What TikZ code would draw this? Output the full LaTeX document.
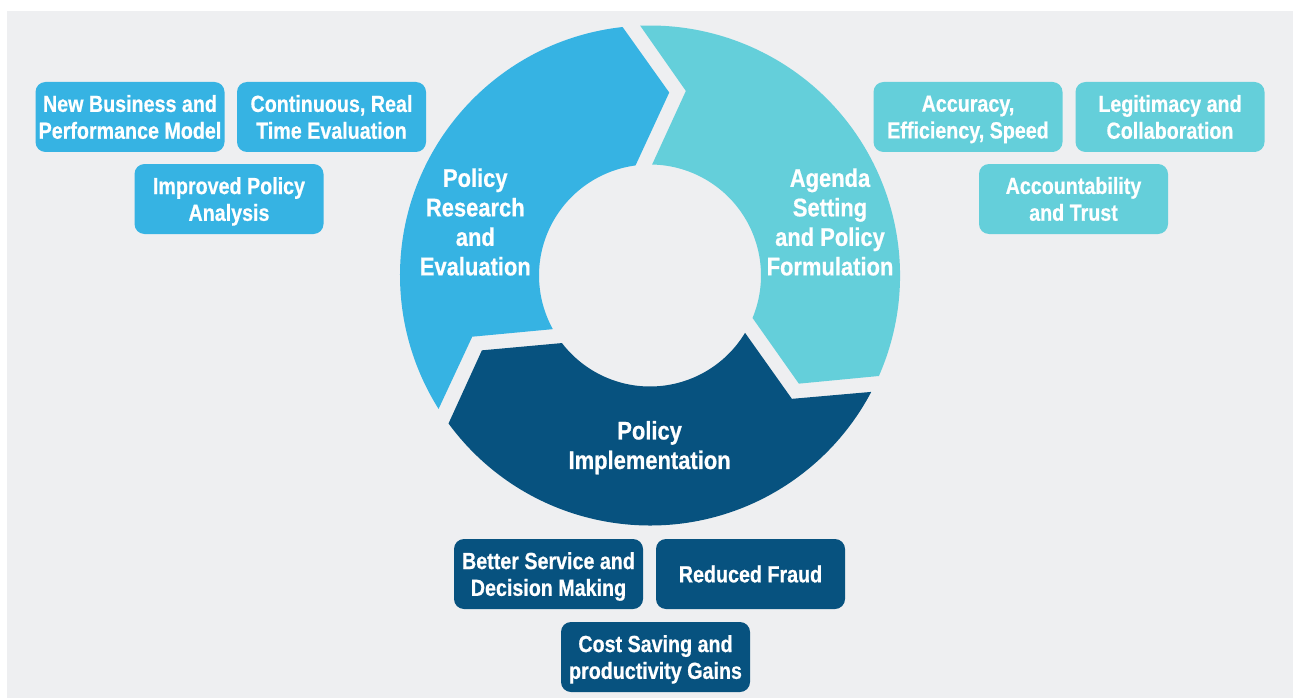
\documentclass[tikz,border=0pt]{standalone}
\usepackage{fontspec}
\setmainfont{Liberation Sans}
\newfontfamily\ringfam{Liberation Sans}[FakeStretch=0.86,FakeBold=0.6]
\newfontfamily\boxfam{Liberation Sans}[FakeStretch=0.845,FakeBold=0.6]
\definecolor{bgc}{HTML}{EEEFF1}
\definecolor{lblue}{HTML}{36B3E3}
\definecolor{tealc}{HTML}{64CFDA}
\definecolor{navyc}{HTML}{07527F}
% ring segment: #1 = tip angle of previous cut (notch side), #2 = tip angle of own cut, #3 = colour
\newcommand\ringseg[3]{%
  \fill[#3] ({#1+8.25}:250) -- ({#1-5}:188) -- ({#1+4.9}:111)
    arc[start angle={#1+4.9}, end angle={#2+13.5}, radius=111]
    -- ({#2}:184) -- ({#2+12.3}:250)
    arc[start angle={#2+12.3}, end angle={#1+8.25}, radius=250] -- cycle;}
\begin{document}
\begin{tikzpicture}[x=1pt,y=-1pt,
  box/.style={rounded corners=10pt, minimum width=189pt, minimum height=70pt,
    inner sep=0pt, text=white, align=center,
    font=\boxfam\bfseries\fontsize{23.3}{26.8}\selectfont},
  ringlabel/.style={inner sep=0pt, text=white, align=center,
    font=\ringfam\bfseries\fontsize{25.5}{29.5}\selectfont}]
\useasboundingbox (0,0) rectangle (1293,698);
\fill[bgc] (7,11) rectangle (1293,698);
\begin{scope}[shift={(650,275.5)}, yscale=-1]
  \ringseg{204}{84}{lblue}
  \ringseg{84}{-36}{tealc}
  \ringseg{-36}{-156}{navyc}
\end{scope}
% ring labels
\node[ringlabel] (research) at (475.3,222) {Policy\\Research\\and\\Evaluation};
\node[ringlabel] (agenda) at (830,222) {Agenda\\Setting\\and Policy\\Formulation};
\node[ringlabel] (implement) at (649.6,445) {Policy\\\smash{Implementation}};
% left boxes
\node[box, fill=lblue] (newbiz) at (130,117) {New Business and\\Performance Model};
\node[box, fill=lblue] (continuous) at (331.5,117) {Continuous, Real\\Time Evaluation};
\node[box, fill=lblue] (improved) at (229,199) {Improved Policy\\\smash{Analysis}};
% right boxes
\node[box, fill=tealc] (accuracy) at (968,117) {Accuracy,\\\smash{Efficiency, Speed}};
\node[box, fill=tealc] (legitimacy) at (1170,117) {Legitimacy and\\Collaboration};
\node[box, fill=tealc] (accountability) at (1073.5,199) {Accountability\\and Trust};
% bottom boxes
\node[box, fill=navyc] (service) at (548.5,574) {Better Service and\\\smash{Decision Making}};
\node[box, fill=navyc] (fraud) at (750.5,574) {Reduced Fraud};
\node[box, fill=navyc] (cost) at (655.5,657) {Cost Saving and\\\smash{productivity Gains}};
\end{tikzpicture}
\end{document}
